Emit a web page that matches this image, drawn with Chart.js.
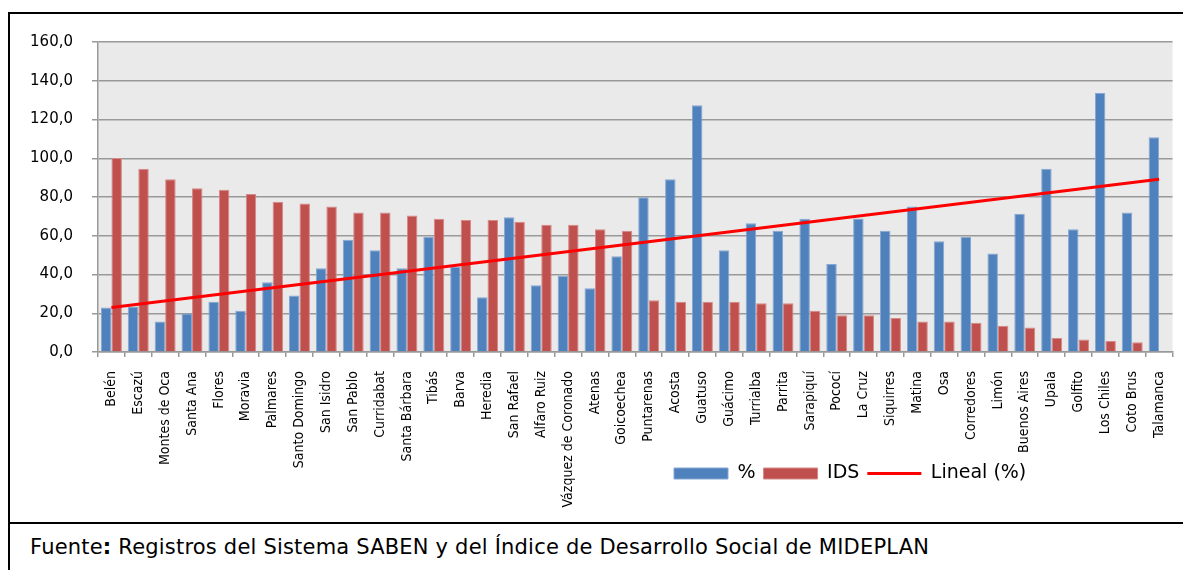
<!DOCTYPE html>
<html>
<head>
<meta charset="utf-8">
<script src="https://cdn.jsdelivr.net/npm/chart.js@4/dist/chart.umd.min.js"></script>
<style>
  body { margin: 0; background: #fff; width: 1183px; height: 570px; overflow: hidden; position: relative; }
  #chartBox { position: absolute; left: 8px; top: 12px; width: 1173px; height: 508px; border-left: 2px solid #000; border-top: 2px solid #000; }
  #chart { position: absolute; left: 0; top: 0; }
  #noteBox { position: absolute; left: 8px; top: 522px; width: 1175px; height: 48px; border-left: 2px solid #000; border-top: 2px solid #000; background: #fff; }
  #note { position: absolute; left: 20px; top: 11px; font-family: "DejaVu Sans", sans-serif; font-size: 21px; line-height: 24px; color: #000; white-space: nowrap; letter-spacing: 0.2px; }
</style>
</head>
<body>
<div id="chartBox"><canvas id="chart" width="1180" height="560"></canvas></div>
<div id="noteBox"><div id="note">Fuente<b>:</b> Registros del Sistema SABEN y del Índice de Desarrollo Social de MIDEPLAN</div></div>
<script>
// cantones
const cantones = [
  "Belén", "Escazú", "Montes de Oca", "Santa Ana", "Flores", "Moravia", "Palmares",
  "Santo Domingo", "San Isidro", "San Pablo", "Curridabat", "Santa Bárbara", "Tibás",
  "Barva", "Heredia", "San Rafael", "Alfaro Ruiz", "Vázquez de Coronado", "Atenas",
  "Goicoechea", "Puntarenas", "Acosta", "Guatuso", "Guácimo", "Turrialba", "Parrita",
  "Sarapiquí", "Pococí", "La Cruz", "Siquirres", "Matina", "Osa", "Corredores", "Limón",
  "Buenos Aires", "Upala", "Golfito", "Los Chiles", "Coto Brus", "Talamanca"
];

// % (azul)
const porcentaje = [
  23.0, 23.5, 15.8, 19.9, 25.9, 21.3, 36.0, 29.2, 43.2, 58.0, 52.5, 43.2, 59.5,
  43.9, 28.3, 69.6, 34.5, 39.3, 32.9, 49.4, 79.9, 89.2, 127.4, 52.5, 66.5, 62.6,
  68.8, 45.4, 68.9, 62.6, 75.1, 57.1, 59.5, 50.9, 71.3, 94.6, 63.4, 133.7, 72.0, 110.9
];

// IDS (rojo)
const ids = [
  100.1, 94.6, 89.2, 84.5, 83.7, 81.5, 77.5, 76.6, 75.1, 72.0, 72.0, 70.5, 68.8,
  68.1, 68.1, 67.2, 65.7, 65.7, 63.4, 62.6, 26.7, 25.9, 25.9, 25.9, 25.2, 25.2,
  21.3, 19.0, 19.0, 17.5, 15.8, 15.8, 15.1, 13.5, 12.7, 7.2, 6.5, 5.7, 5.0, 0
];

// tendencia lineal: solo extremos
const linealInicio = 23.0;
const linealFin = 89.2;
const lineal = cantones.map((c, i) =>
  i === 0 ? linealInicio : (i === cantones.length - 1 ? linealFin : null));

const yTicks = [0, 20, 40, 60, 80, 100, 120, 140, 160];

const gridColor = "#999999";

const plotBg = {
  id: "plotBg",
  beforeDraw(chart) {
    const a = chart.chartArea;
    const ctx = chart.ctx;
    ctx.save();
    ctx.fillStyle = "#eaeaea";
    ctx.fillRect(a.left, a.top, a.right - a.left, a.bottom - a.top);
    ctx.restore();
    // leyenda abajo a la derecha, como en el original
    chart.legend.left = 656;
    chart.legend.top = 442;
  }
};

new Chart(document.getElementById("chart"), {
  type: "bar",
  data: {
    labels: cantones,
    datasets: [
      {
        label: "%",
        data: porcentaje,
        backgroundColor: "#4f81bd",
        borderColor: "#86a7d3",
        borderWidth: 1,
        pointStyle: "rect",
        order: 1
      },
      {
        label: "IDS",
        data: ids,
        backgroundColor: "#c0504d",
        borderColor: "#d68986",
        borderWidth: 1,
        pointStyle: "rect",
        order: 1
      },
      {
        type: "line",
        label: "Lineal (%)",
        data: lineal,
        borderColor: "#ff0000",
        backgroundColor: "#ff0000",
        borderWidth: 3,
        pointRadius: 0,
        pointStyle: "line",
        spanGaps: true,
        order: 0
      }
    ]
  },
  options: {
    responsive: false,
    animation: false,
    layout: { padding: { top: 27, right: 8, left: 0, bottom: 0 } },
    datasets: {
      bar: { categoryPercentage: 0.78, barPercentage: 1.0 }
    },
    plugins: {
      tooltip: { enabled: false },
      legend: {
        position: "bottom",
        align: "start",
        labels: {
          usePointStyle: true,
          pointStyleWidth: 54,
          boxHeight: 11,
          padding: 8,
          color: "#000",
          font: { family: "'DejaVu Sans', sans-serif", size: 19 },
          sort: (a, b) => a.datasetIndex - b.datasetIndex
        }
      }
    },
    scales: {
      x: {
        grid: { display: true, drawOnChartArea: false, color: gridColor, lineWidth: 1.5, tickLength: 5 },
        border: { color: gridColor, width: 1.5 },
        ticks: {
          autoSkip: false,
          maxRotation: 90,
          minRotation: 90,
          padding: 14,
          color: "#000",
          font: { family: "'Liberation Sans Narrow', 'DejaVu Sans Condensed', sans-serif", size: 14 }
        },
        afterFit(s) { s.height = 560 - 338 - s.chart.legend.height; }
      },
      y: {
        min: 0,
        max: 160,
        afterBuildTicks(s) { s.ticks = yTicks.map(v => ({ value: v })); },
        grid: { color: gridColor, lineWidth: 1.5, tickLength: 6 },
        border: { color: gridColor, width: 1.5 },
        ticks: {
          padding: 19,
          color: "#000",
          font: { family: "'DejaVu Sans', sans-serif", size: 15 },
          callback: v => v.toFixed(1).replace(".", ",")
        },
        afterFit(s) { s.width = 88; }
      }
    }
  },
  plugins: [plotBg]
});
</script>
</body>
</html>
